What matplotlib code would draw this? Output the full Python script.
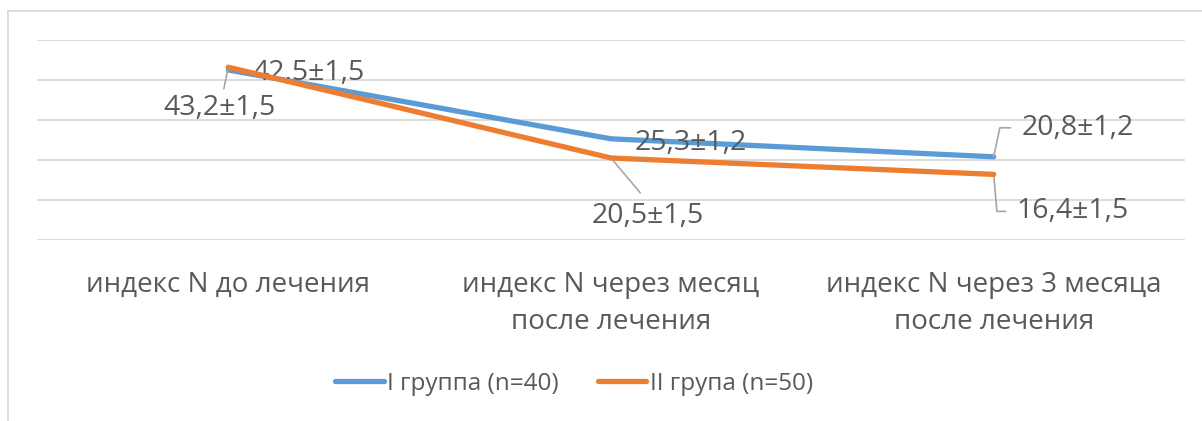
import numpy as np
import matplotlib
matplotlib.use('Agg')
import matplotlib.pyplot as plt
from matplotlib.lines import Line2D

plt.rcParams['font.family'] = ['Open Sans', 'DejaVu Sans']

categories = ['индекс N до лечения',
              'индекс N через месяц\nпосле лечения',
              'индекс N через 3 месяца\nпосле лечения']
group1 = [42.5, 25.3, 20.8]
group2 = [43.2, 20.5, 16.4]
labels1 = ['42,5±1,5', '25,3±1,2', '20,8±1,2']
labels2 = ['43,2±1,5', '20,5±1,5', '16,4±1,5']
names = ['I группа (n=40)', 'II група (n=50)']

blue = '#5B9BD5'
orange = '#ED7D31'
txt = '#595959'
grid = '#D9D9D9'

W, H = 1202, 421
fig = plt.figure(figsize=(W / 100, H / 100), dpi=100)
ax = fig.add_axes([37 / W, 1 - 240 / H, 1148 / W, 200 / H])

x = np.arange(len(categories))
ax.plot(x, group1, color=blue, lw=3.8, solid_capstyle='round', solid_joinstyle='round', zorder=3)
ax.plot(x, group2, color=orange, lw=3.8, solid_capstyle='round', solid_joinstyle='round', zorder=4)

ax.set_xlim(-0.5, 2.5)
ax.set_ylim(0, 50)
ax.set_yticks(np.arange(0, 51, 10))
ax.yaxis.grid(True, color=grid, lw=1.3)
ax.set_axisbelow(True)
ax.tick_params(axis='y', left=False, labelleft=False)
ax.tick_params(axis='x', length=0, pad=22, labelsize=20, labelcolor=txt)
ax.set_xticks(x)
ax.set_xticklabels(categories, linespacing=1.45)
for s in ax.spines.values():
    s.set_visible(False)

# data labels (offsets in pixels from each point)
lead = dict(arrowstyle='-', color='#A6A6A6', lw=1.2, shrinkA=0, shrinkB=0)
fs = 20.5
ax.annotate(labels1[0], (0, group1[0]), xytext=(24, -3), textcoords='offset pixels',
            ha='left', va='center', fontsize=fs, color=txt)
ax.annotate(labels2[0], (0, group2[0]), xytext=(-9, -41), textcoords='offset pixels',
            ha='center', va='center', fontsize=fs, color=txt,
            arrowprops=dict(lead, relpos=(0.53, 1.0), shrinkA=2))
ax.annotate(labels1[1], (1, group1[1]), xytext=(24, -4), textcoords='offset pixels',
            ha='left', va='center', fontsize=fs, color=txt)
ax.annotate(labels2[1], (1, group2[1]), xytext=(37, -58), textcoords='offset pixels',
            ha='center', va='center', fontsize=fs, color=txt,
            arrowprops=dict(lead, relpos=(0.5, 1.0), shrinkA=6))
ax.annotate(labels1[2], (2, group1[2]), xytext=(28, 29), textcoords='offset pixels',
            ha='left', va='center', fontsize=fs, color=txt,
            arrowprops=dict(lead, relpos=(0, 0.5), shrinkA=6,
                            connectionstyle='angle,angleA=0,angleB=78,rad=0'))
ax.annotate(labels2[2], (2, group2[2]), xytext=(23, -37), textcoords='offset pixels',
            ha='left', va='center', fontsize=fs, color=txt,
            arrowprops=dict(lead, relpos=(0, 0.5), shrinkA=6,
                            connectionstyle='angle,angleA=0,angleB=-85,rad=0'))

handles = [Line2D([], [], color=blue, lw=3.8, solid_capstyle='round'),
           Line2D([], [], color=orange, lw=3.8, solid_capstyle='round')]
fig.legend(handles, names, loc='center', bbox_to_anchor=(574 / W, 1 - 384 / H), ncol=2,
           frameon=False, fontsize=17.5, labelcolor=txt, handlelength=2.0,
           handletextpad=0.15, columnspacing=1.6)

# chart area border (Excel style, cut off at right/bottom)
fig.add_artist(Line2D([8 / W, 8 / W], [0, 1 - 11 / H], color=grid, lw=1.3))
fig.add_artist(Line2D([8 / W, 1], [1 - 11 / H, 1 - 11 / H], color=grid, lw=1.3))

fig.savefig('out.png', dpi=100)
